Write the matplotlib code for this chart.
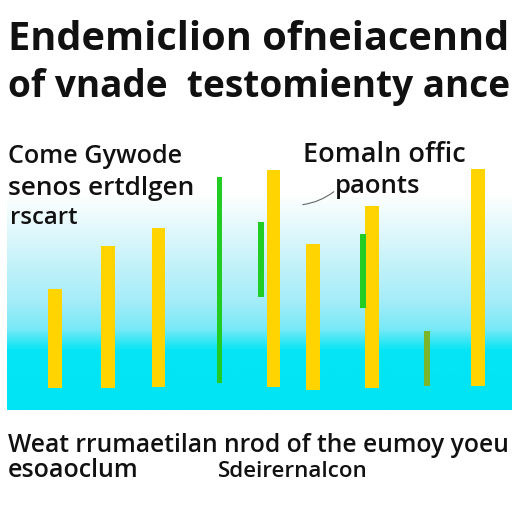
import numpy as np
import matplotlib
matplotlib.use('Agg')
import matplotlib.pyplot as plt
from matplotlib.colors import LinearSegmentedColormap

## chart values (heights measured above the plot floor)
yellow_pos = [55, 108, 158.5, 273.5, 313, 372, 478]
yellow_low = [22, 22, 23, 23, 20, 22, 24]
yellow_high = [121, 164, 182, 240, 166, 204, 241]

green_pos = [219.5, 261, 363, 427]
green_low = [27, 113, 102, 24]
green_high = [233, 188, 176, 79]
green_cols = ['#22cc22', '#22cc22', '#22cc22', '#7db52a']

title_lines = ['Endemiclion ofneiacennd', 'of vnade  testomienty ance']
left_note = ['Come Gywode', 'senos ertdlgen', 'rscart']
right_note = ['Eomaln offic', 'paonts']
foot_line1 = 'Weat rrumaetilan nrod of the eumoy yoeu'
foot_line2 = ['esoaoclum', 'Sdeirernalcon']

W = H = 512
fig = plt.figure(figsize=(5.12, 5.12), dpi=100)
fig.patch.set_facecolor('white')


def put(txt, x0, x1, ybot, weight='normal', family='Open Sans', color='#111111'):
    # place text so it fills x0..x1 (pixels) with its baseline at ybot
    t = fig.text(x0 / W, 1 - ybot / H, txt, fontsize=20, fontweight=weight,
                 family=family, color=color, ha='left', va='baseline')
    fig.canvas.draw()
    bb = t.get_window_extent()
    t.set_fontsize(20 * (x1 - x0) / bb.width)
    return t


# plot panel with the cyan gradient
ax = fig.add_axes([7 / W, 1 - 410 / H, 505 / W, 270 / H])
ax.set_xlim(7, 512)
ax.set_ylim(0, 270)
ax.axis('off')

cmap = LinearSegmentedColormap.from_list('bg', [
    (0.0, '#00e4f4'), (0.22, '#05e5f4'), (0.30, '#7ae9f7'),
    (0.41, '#a6edf8'), (0.56, '#c8f3fa'), (0.70, '#e8fafd'),
    (0.80, '#ffffff'), (1.0, '#ffffff')])
grad = np.linspace(0, 1, 300).reshape(-1, 1)
ax.imshow(grad, cmap=cmap, aspect='auto', origin='lower',
          extent=[7, 512, 0, 270], zorder=0)

ax.bar(yellow_pos, np.array(yellow_high) - np.array(yellow_low), bottom=yellow_low,
       width=13.5, color='#ffd400', zorder=2)
ax.bar(green_pos, np.array(green_high) - np.array(green_low), bottom=green_low,
       width=5.5, color=green_cols, zorder=3)

ax.annotate('', xy=(336, 220), xytext=(300, 205),
            arrowprops=dict(arrowstyle='-', color='#666666', lw=0.8,
                            connectionstyle='arc3,rad=0.15'))

# titles
put(title_lines[0], 8, 510, 50, weight='bold')
put(title_lines[1], 8, 510, 97, weight='bold')

# notes inside the panel
put(left_note[0], 8, 182, 163, weight='semibold')
put(left_note[1], 8, 195, 195, weight='semibold')
put(left_note[2], 10, 77, 224, weight='semibold')
put(right_note[0], 303, 465, 162, weight='semibold')
put(right_note[1], 335, 420, 193, weight='semibold')

# footer text
put(foot_line1, 8, 508, 452, weight='semibold')
put(foot_line2[0], 8, 138, 477, weight='semibold')
put(foot_line2[1], 218, 367, 477, weight='semibold')

fig.savefig('out.png', dpi=100)
